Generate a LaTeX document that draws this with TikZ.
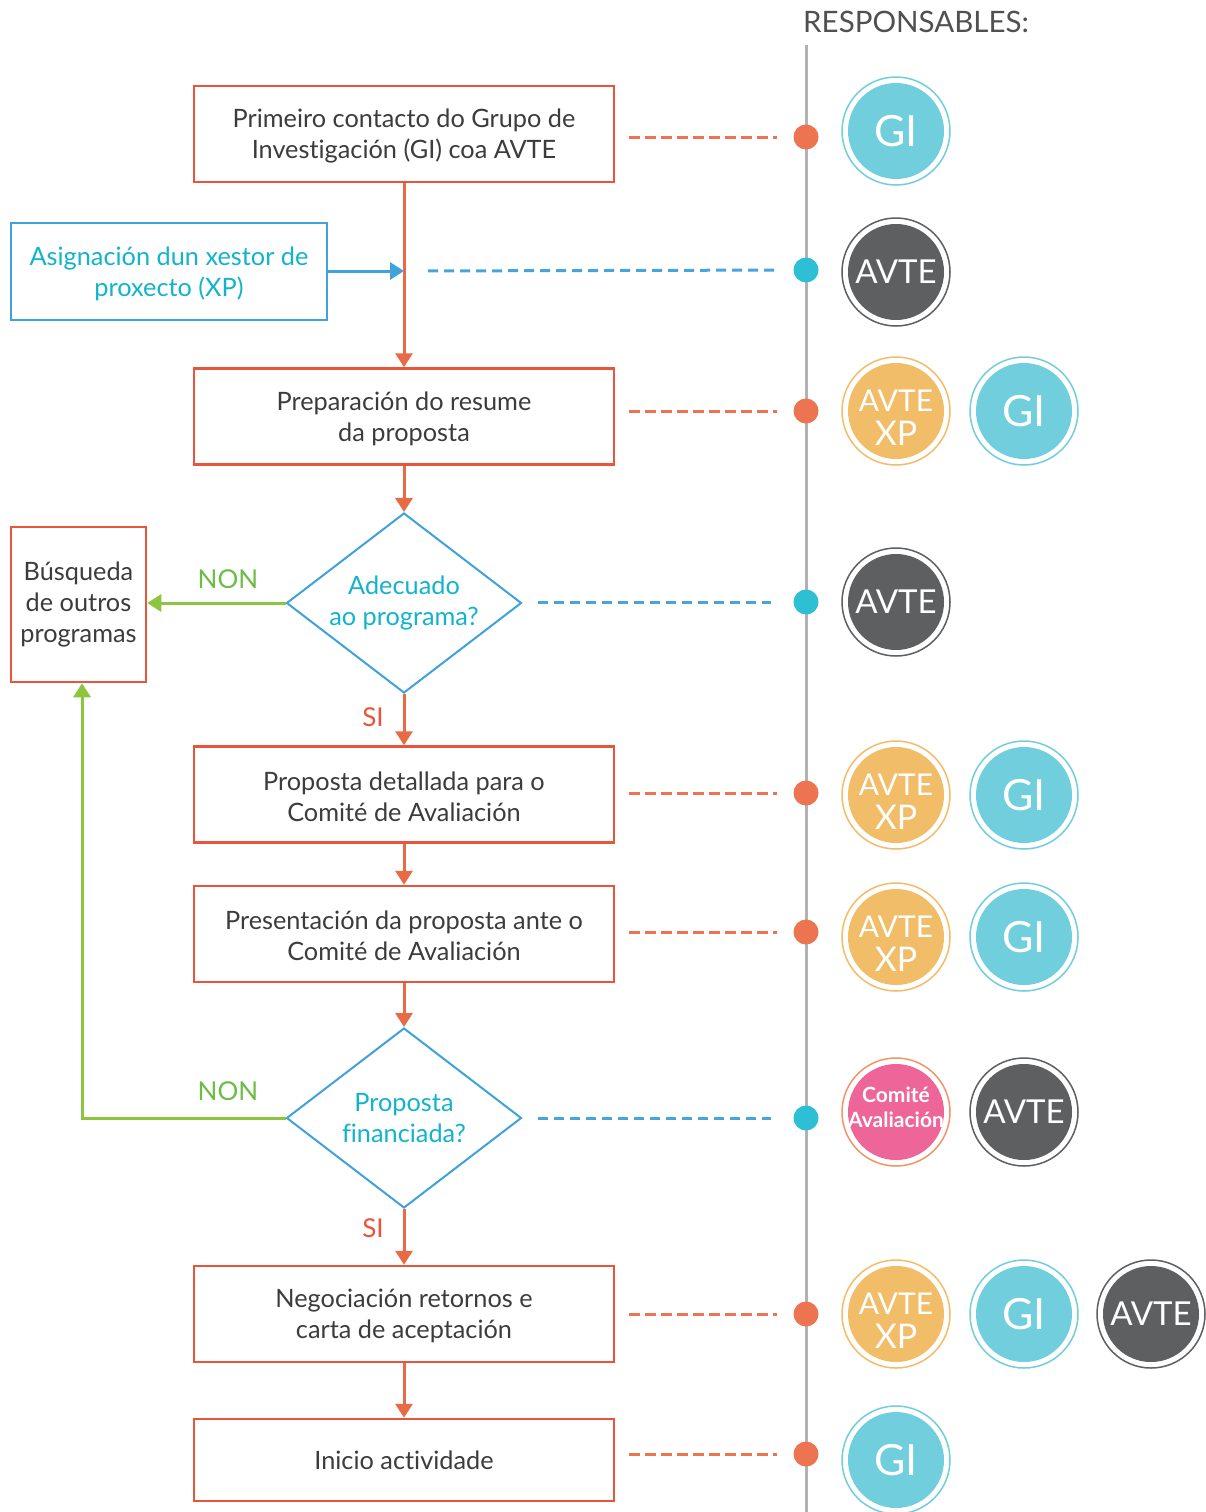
\documentclass[tikz,border=0pt]{standalone}
\usepackage{fontspec}
\setmainfont[Ligatures=NoCommon]{Lato}
\usetikzlibrary{shapes.geometric,arrows.meta}
\definecolor{ored}{HTML}{E8553A}
\definecolor{oline}{HTML}{E96B45}
\definecolor{bblue}{HTML}{3FA2DA}
\definecolor{bdashc}{HTML}{45A6DB}
\definecolor{ctext}{HTML}{12B4CC}
\definecolor{gline}{HTML}{8CC63F}
\definecolor{gtext}{HTML}{6BBE45}
\definecolor{dtext}{HTML}{3C3C3E}
\definecolor{tlgray}{HTML}{B1B1B6}
\definecolor{dotor}{HTML}{EC7450}
\definecolor{dotcy}{HTML}{2DBFD4}
\definecolor{cgi}{HTML}{71CEDD}
\definecolor{cavte}{HTML}{5E5F61}
\definecolor{cxp}{HTML}{F2BD68}
\definecolor{cpink}{HTML}{EE6699}
\definecolor{cpinkring}{HTML}{F0956A}
\tikzset{
  box/.style={draw=ored, line width=2.5pt, minimum width=420pt, minimum height=96pt, align=center, text=dtext, font=\fontsize{25.3}{31}\selectfont, inner sep=0pt},
  bluebox/.style={draw=bblue, line width=2.5pt, minimum width=316pt, minimum height=97pt, align=center, text=ctext, font=\fontsize{25.3}{31}\selectfont, inner sep=0pt},
  dia/.style={diamond, draw=bblue, line width=2pt, minimum width=235pt, minimum height=180pt, aspect=1.3, inner sep=0pt, align=center, text=ctext, font=\fontsize{25.3}{31}\selectfont},
  oarr/.style={draw=oline, line width=3pt, -{Triangle[width=17pt,length=14pt]}},
  barr/.style={draw=bblue, line width=3pt, -{Triangle[width=17pt,length=14pt]}},
  garr/.style={draw=gline, line width=3pt, -{Triangle[width=17pt,length=14pt]}},
  odash/.style={draw=dotor, line width=3pt, dash pattern=on 11pt off 5pt},
  bdash/.style={draw=bdashc, line width=3pt, dash pattern=on 10pt off 6pt},
  odot/.style={circle, fill=dotor, minimum size=25pt, inner sep=0pt},
  cdot/.style={circle, fill=dotcy, minimum size=25pt, inner sep=0pt},
  resp/.style 2 args={circle, draw=#2, line width=1.5pt, minimum size=108pt, inner sep=0pt, text=white, align=center,
    path picture={\fill[#1] (path picture bounding box.center) circle (48pt);}},
  gi/.style={resp={cgi}{cgi}, font=\fontsize{43}{43}\selectfont},
  avte/.style={resp={cavte}{cavte}, font=\fontsize{33}{33}\selectfont},
  avxp/.style={resp={cxp}{cxp}, font=\fontsize{30}{34}\selectfont},
  comite/.style={resp={cpink}{cpinkring}, font=\bfseries\fontsize{21}{25}\selectfont},
  lbl/.style={font=\fontsize{26}{26}\selectfont, inner sep=0pt}
}
\newcommand{\axp}{\rule{0pt}{35pt}AVTE\\{\fontsize{34}{34}\selectfont XP}}
\newcommand{\dn}{\rule{0pt}{23pt}}
\begin{document}
\begin{tikzpicture}[x=1pt,y=-1pt]
\useasboundingbox[fill=white] (0,0) rectangle (1206,1512);
% timeline
\coordinate (tltop) at (806,45);
\coordinate (tlbot) at (806,1512);
\draw[tlgray, line width=3pt] (tltop) -- (tlbot);
\node[anchor=west, text=dtext!90, font=\fontsize{29.5}{30}\selectfont, inner sep=0pt] (resph) at (803,22) {RESPONSABLES:};

% boxes
\node[box] (b1) at (404,134) {\dn Primeiro contacto do Grupo de\\Investigación (GI) coa AVTE};
\node[bluebox] (xp) at (169,271.5) {\dn Asignación dun xestor de\\proxecto (XP)};
\node[box] (b2) at (404,416.5) {\dn Preparación do resume\\da proposta};
\node[dia] (d1) at (404,603) {Adecuado\\ao programa?};
\node[draw=ored, line width=2.5pt, minimum width=135pt, minimum height=155pt, align=center, text=dtext, font=\fontsize{25.3}{31}\selectfont, inner sep=0pt] (bus) at (78.5,604.5) {Búsqueda\\de outros\\programas};
\node[box] (b3) at (404,794.5) {\dn Proposta detallada para o\\Comité de Avaliación};
\node[box] (b4) at (404,934) {\dn Presentación da proposta ante o\\Comité de Avaliación};
\node[dia] (d2) at (404,1118) {Proposta\\financiada?};
\node[box] (b5) at (404,1314) {\dn Negociación retornos e\\carta de aceptación};
\node[box, minimum height=82pt] (b6) at (404,1460) {Inicio actividade};

% flow arrows
\coordinate (xpend) at (404,271);
\draw[oarr] (b1) -- (b2);
\draw[barr] (xp.east |- xpend) -- (xpend);
\draw[oarr] (b2) -- (d1);
\draw[oarr] (d1) -- (b3);
\draw[garr] (d1.west) -- (bus.east |- d1.west);
\draw[oarr] (b3) -- (b4);
\draw[oarr] (b4) -- (d2);
\draw[oarr] (d2) -- (b5);
\draw[garr] (d2.west) -| ([xshift=3.5pt]bus.south);
\draw[oarr] (b5) -- (b6);

\node[lbl, text=gtext] (non1) at (228,579) {NON};
\node[lbl, text=gtext] (non2) at (228,1091) {NON};
\node[lbl, text=ored] (si1) at (373,717) {SI};
\node[lbl, text=ored] (si2) at (373,1228) {SI};

% dots
\node[odot] (t1) at (806,137) {};
\node[cdot] (t2) at (806,270) {};
\node[odot] (t3) at (806,411) {};
\node[cdot] (t4) at (806,602) {};
\node[odot] (t5) at (806,793) {};
\node[odot] (t6) at (806,932) {};
\node[cdot] (t7) at (806,1118) {};
\node[odot] (t8) at (806,1314) {};
\node[odot] (t9) at (806,1454) {};

% dashed links
\draw[odash, shorten <=14pt, shorten >=29pt] (b1.east |- t1) -- (t1.center);
\draw[bdash, shorten <=24pt, shorten >=31pt] (xpend) -- (t2.center);
\draw[odash, shorten <=14pt, shorten >=29pt] (b2.east |- t3) -- (t3.center);
\draw[bdash, shorten <=15pt, shorten >=35pt] (d1.east |- t4) -- (t4.center);
\draw[odash, shorten <=14pt, shorten >=29pt] (b3.east |- t5) -- (t5.center);
\draw[odash, shorten <=14pt, shorten >=29pt] (b4.east |- t6) -- (t6.center);
\draw[bdash, shorten <=15pt, shorten >=35pt] (d2.east |- t7) -- (t7.center);
\draw[odash, shorten <=14pt, shorten >=29pt] (b5.east |- t8) -- (t8.center);
\draw[odash, shorten <=14pt, shorten >=29pt] (b6.east |- t9) -- (t9.center);

% responsables
\node[gi] (r1a) at (896,131) {GI};
\node[avte] (r2a) at (896,272) {AVTE};
\node[avxp] (r3a) at (896,411) {\axp};
\node[gi] (r3b) at (1024,411) {GI};
\node[avte] (r4a) at (896,602) {AVTE};
\node[avxp] (r5a) at (896,795) {\axp};
\node[gi] (r5b) at (1024,795) {GI};
\node[avxp] (r6a) at (896,937) {\axp};
\node[gi] (r6b) at (1024,937) {GI};
\node[comite] (r7a) at (896,1112) {Comité\\Avaliación\rule[-10pt]{0pt}{10pt}};
\node[avte] (r7b) at (1024,1112) {AVTE};
\node[avxp] (r8a) at (896,1314) {\axp};
\node[gi] (r8b) at (1024,1314) {GI};
\node[avte] (r8c) at (1151,1314) {AVTE};
\node[gi] (r9a) at (896,1460) {GI};
\end{tikzpicture}
\end{document}
